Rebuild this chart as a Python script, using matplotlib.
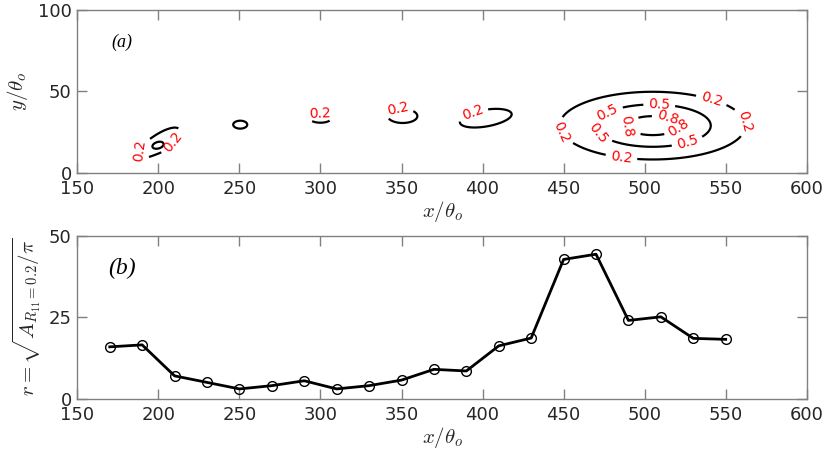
import numpy as np
import matplotlib
matplotlib.use("Agg")
import matplotlib.pyplot as plt

plt.rcParams['mathtext.fontset'] = 'cm'
plt.rcParams['font.family'] = ['DejaVu Sans']

# ---- panel (b) data ----
x_b = [170, 190, 210, 230, 250, 270, 290, 310, 330, 350,
       370, 390, 410, 430, 450, 470, 490, 510, 530, 550]
r_b = [15.9, 16.5, 7.0, 5.0, 3.0, 4.0, 5.5, 3.0, 4.0, 5.7,
       9.0, 8.5, 16.2, 18.6, 42.7, 44.3, 24.0, 25.1, 18.5, 18.2]

# ---- panel (a) field: blobs ----
blob_x = [200.5, 200, 250.5, 300, 350.5, 401, 505]
blob_y = [18.5, 16.7, 29.6, 33.5, 35.0, 33.5, 29.0]
blob_amp = [0.35, 0.30, 0.30, 0.30, 0.30, 0.30, 0.90]
blob_sx = [14.0, 3.5, 4.8, 7.4, 10.0, 16.7, 33.0]
blob_sy = [4.8, 2.0, 2.7, 3.0, 4.8, 5.5, 12.0]
blob_angle = [34, 10, 0, 0, 0, 10, 0]
levels = [0.2, 0.5, 0.8]
label_pos = [(189.7, 13), (209, 19), (299.7, 36), (348, 37), (394, 36.5),
             (475.6, 40.6), (509, 41.6), (489, 28.3), (513.6, 31.3),
             (469, 22), (486, 12), (529, 28.3), (526, 20), (447, 24),
             (558.6, 30.4), (542.4, 48.8)]

xticks = [150, 200, 250, 300, 350, 400, 450, 500, 550, 600]

gx = np.linspace(150, 600, 1201)
gy = np.linspace(0, 100, 501)
X, Y = np.meshgrid(gx, gy)
Z = np.zeros_like(X)
for bx, by, a, sx, sy, ang in zip(blob_x, blob_y, blob_amp, blob_sx, blob_sy, blob_angle):
    t = np.deg2rad(ang)
    u = (X - bx) * np.cos(t) + (Y - by) * np.sin(t)
    v = -(X - bx) * np.sin(t) + (Y - by) * np.cos(t)
    Z += a * np.exp(-0.5 * ((u / sx) ** 2 + (v / sy) ** 2))

fig = plt.figure(figsize=(8.27, 4.62), dpi=100)
ax1 = fig.add_axes([0.0935, 0.626, 0.882, 0.352])
ax2 = fig.add_axes([0.0935, 0.137, 0.882, 0.353])

spine_col = '#808080'
text_col = '#262626'

cs = ax1.contour(X, Y, Z, levels=levels, colors='black', linewidths=1.6)
lbls = ax1.clabel(cs, inline=True, fontsize=10, fmt='%.1f', manual=label_pos)
for t in lbls:
    t.set_color('red')
ax1.set_xlim(150, 600)
ax1.set_ylim(0, 100)
ax1.set_yticks([0, 50, 100])
ax1.text(171, 80, '(a)', fontsize=13, ha='left', va='center',
         family='Liberation Serif', style='italic')
ax1.set_ylabel(r'$y/\theta_o$', fontsize=15, color=text_col, labelpad=6)

ax2.plot(x_b, r_b, color='black', lw=2.0, marker='o', ms=7,
         mfc='none', mec='black', mew=1.0)
ax2.set_xlim(150, 600)
ax2.set_ylim(0, 50)
ax2.set_yticks([0, 25, 50])
ax2.text(169, 40, '(b)', fontsize=17, ha='left', va='center',
         family='Liberation Serif', style='italic')
ax2.set_ylabel(r'$r=\sqrt{A_{R_{11}=0.2}/\pi}$', fontsize=15, color=text_col, labelpad=4)

for ax in (ax1, ax2):
    ax.set_xticks(xticks)
    ax.set_xlabel(r'$x/\theta_o$', fontsize=15, color=text_col, labelpad=1)
    ax.tick_params(direction='in', length=7, width=1, colors=spine_col,
                   labelcolor=text_col, labelsize=13, top=True, right=True)
    ax.tick_params(axis='x', pad=5)
    ax.tick_params(axis='y', pad=4)
    for s in ax.spines.values():
        s.set_color(spine_col)
        s.set_linewidth(1.0)

fig.savefig('out.png', dpi=100)
